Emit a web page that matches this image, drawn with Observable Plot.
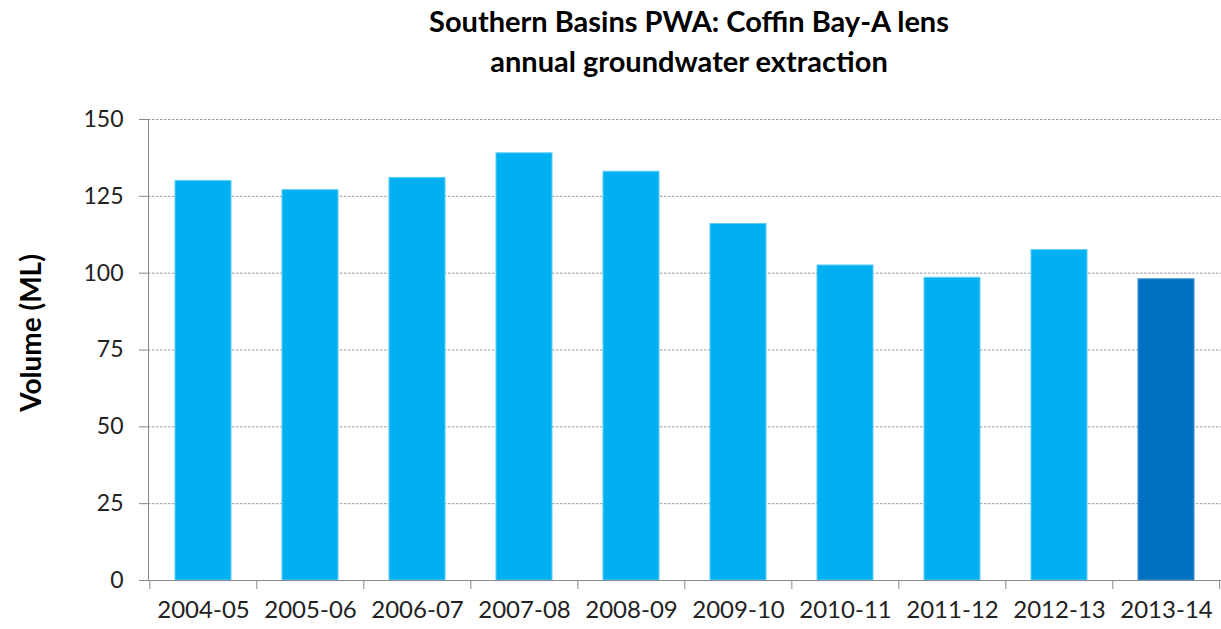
<!DOCTYPE html>
<html><head><meta charset="utf-8">
<script src="https://cdn.jsdelivr.net/npm/d3@7"></script>
<script src="https://cdn.jsdelivr.net/npm/@observablehq/plot@0.6"></script>
<style>
body{margin:0;background:#fff;font-family:Lato,"Open Sans",sans-serif;}
#wrap{position:relative;width:1221px;height:629px;overflow:hidden;}
#title{position:absolute;left:157px;width:1064px;top:1px;text-align:center;font-weight:bold;font-size:29px;line-height:40px;color:#000;z-index:2;}
#ylab{position:absolute;left:30px;top:333px;transform:translate(-50%,-50%) rotate(-90deg);font-weight:bold;font-size:28px;white-space:nowrap;color:#000;z-index:2;}
#chart{position:absolute;left:0;top:100px;z-index:1;}
</style></head><body>
<div id="wrap"><div id="title">Southern Basins PWA: Coffin Bay-A lens<br>annual groundwater extraction</div><div id="ylab">Volume (ML)</div><div id="chart"></div></div>
<script>
const years = ["2004-05","2005-06","2006-07","2007-08","2008-09","2009-10","2010-11","2011-12","2012-13","2013-14"];
const volumes = [130, 127, 131, 139, 133, 116, 102.5, 98.5, 107.5, 98];
const highlight = "2013-14";
const yTicks = [0, 25, 50, 75, 100, 125, 150];
const data = years.map((y, i) => ({year: y, volume: volumes[i]}));
const W = 1221, H = 529, mL = 148, mR = 0, mT = 19, mB = 49;
const step = (W - mL - mR) / years.length;
const plot = Plot.plot({
  width: W, height: H, marginLeft: mL, marginRight: mR, marginTop: mT, marginBottom: mB,
  style: {fontFamily: "Lato, 'Open Sans', sans-serif", fontSize: "23px", color: "#222", background: "transparent"},
  x: {domain: years, paddingInner: 0.48, paddingOuter: 0.24, label: null},
  y: {domain: [0, 150], label: null},
  marks: [
    Plot.ruleY(yTicks.filter(d => d > 0), {stroke: "#9a9a9a", strokeDasharray: "2.5,1.5", strokeWidth: 1}),
    Plot.barY(data, {x: "year", y: "volume", fill: d => d.year === highlight ? "#0070C0" : "#00B0F0", stroke: d => d.year === highlight ? "#3b8fd3" : "#5cccf6", strokeWidth: 1}),
    Plot.frame({anchor: "left", stroke: "#888"}),
    Plot.frame({anchor: "bottom", stroke: "#888"}),
    Plot.axisY({ticks: yTicks, tickSize: 9, tickPadding: 16, stroke: "#888", fill: "#222", label: null, fontSize: 23}),
    Plot.axisX({tickSize: 0, tickPadding: 20, fill: "#222", label: null, fontSize: 24}),
    Plot.ruleX(years, {x: d => d, dx: -step / 2, insetTop: H - mT - mB, insetBottom: -9, stroke: "#888"}),
    Plot.ruleX([years[years.length - 1]], {x: d => d, dx: step / 2 - 0.5, insetTop: H - mT - mB, insetBottom: -9, stroke: "#888"})
  ]
});
document.getElementById("chart").appendChild(plot);
</script>
</body></html>
